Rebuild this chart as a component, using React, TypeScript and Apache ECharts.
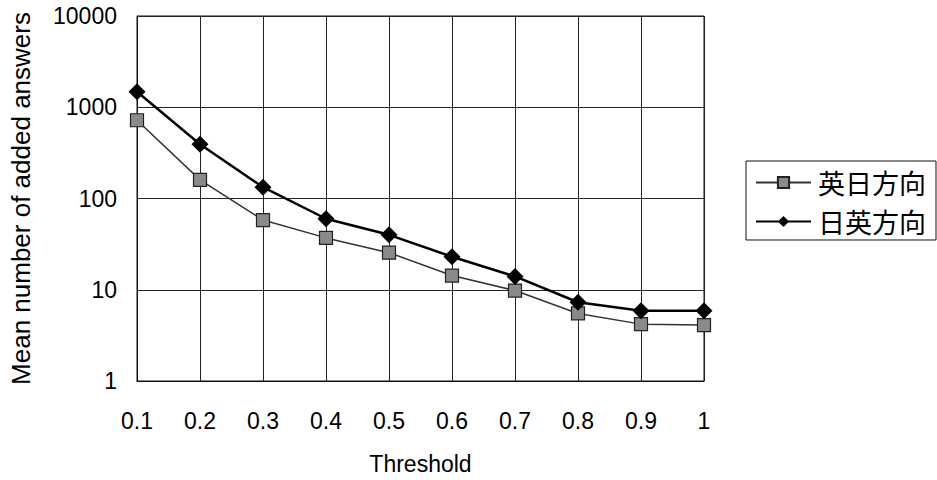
import React, { useEffect, useRef } from "react";
import * as echarts from "echarts";

const categories = ["0.1", "0.2", "0.3", "0.4", "0.5", "0.6", "0.7", "0.8", "0.9", "1"];
const enJaValues = [720, 160, 58, 37, 25.5, 14.3, 9.8, 5.5, 4.2, 4.1];
const jaEnValues = [1480, 393, 133, 60, 40, 23, 14, 7.3, 5.9, 5.9];
const seriesNames = ["英日方向", "日英方向"];

export default function App() {
  const ref = useRef<HTMLDivElement>(null);
  useEffect(() => {
    if (!ref.current) return;
    const chart = echarts.init(ref.current, null, { renderer: "svg" });
    const latin = "'Liberation Sans', Arial, sans-serif";
    chart.setOption({
      animation: false,
      backgroundColor: "#fff",
      grid: {
        left: 136,
        right: 233,
        top: 16,
        bottom: 97,
        show: true,
        borderColor: "#111",
        borderWidth: 1,
        containLabel: false,
      },
      legend: {
        orient: "vertical",
        left: 746,
        top: 161,
        padding: [8, 10, 5, 9],
        itemGap: 12,
        itemWidth: 55,
        itemHeight: 14,
        borderColor: "#111",
        borderWidth: 1,
        textStyle: {
          fontFamily: "'Noto Sans CJK JP', sans-serif",
          fontSize: 27,
          color: "#000",
          padding: [0, 0, 0, 2],
        },
        data: seriesNames,
      },
      xAxis: {
        type: "category",
        data: categories,
        boundaryGap: false,
        name: "Threshold",
        nameLocation: "middle",
        nameGap: 71,
        nameTextStyle: { fontFamily: latin, fontSize: 23, color: "#000" },
        axisLine: { show: true, lineStyle: { color: "#111", width: 1 } },
        axisTick: { show: false },
        axisLabel: { fontFamily: latin, fontSize: 23, color: "#000", margin: 28 },
        splitLine: { show: true, lineStyle: { color: "#222", width: 1 } },
      },
      yAxis: {
        type: "log",
        logBase: 10,
        min: 1,
        max: 10000,
        name: "Mean number of added answers",
        nameLocation: "middle",
        nameGap: 103,
        nameTextStyle: { fontFamily: latin, fontSize: 26, color: "#000" },
        axisLine: { show: true, lineStyle: { color: "#111", width: 1 } },
        axisTick: { show: false },
        axisLabel: {
          fontFamily: latin,
          fontSize: 23,
          color: "#000",
          margin: 20,
          formatter: (v: number) => String(Math.round(v)),
        },
        splitLine: { show: true, lineStyle: { color: "#222", width: 1 } },
      },
      series: [
        {
          name: seriesNames[0],
          type: "line",
          data: enJaValues,
          symbol: "rect",
          symbolSize: 13,
          lineStyle: { color: "#333", width: 1.5 },
          itemStyle: { color: "#8a8a8a", borderColor: "#222", borderWidth: 1.2 },
          z: 3,
        },
        {
          name: seriesNames[1],
          type: "line",
          data: jaEnValues,
          symbol: "diamond",
          symbolSize: 17,
          lineStyle: { color: "#000", width: 2.5 },
          itemStyle: { color: "#000" },
          z: 4,
        },
      ],
    });
    return () => chart.dispose();
  }, []);
  return <div ref={ref} style={{ width: 937, height: 480, position: "absolute", left: 0, top: 0 }} />;
}
